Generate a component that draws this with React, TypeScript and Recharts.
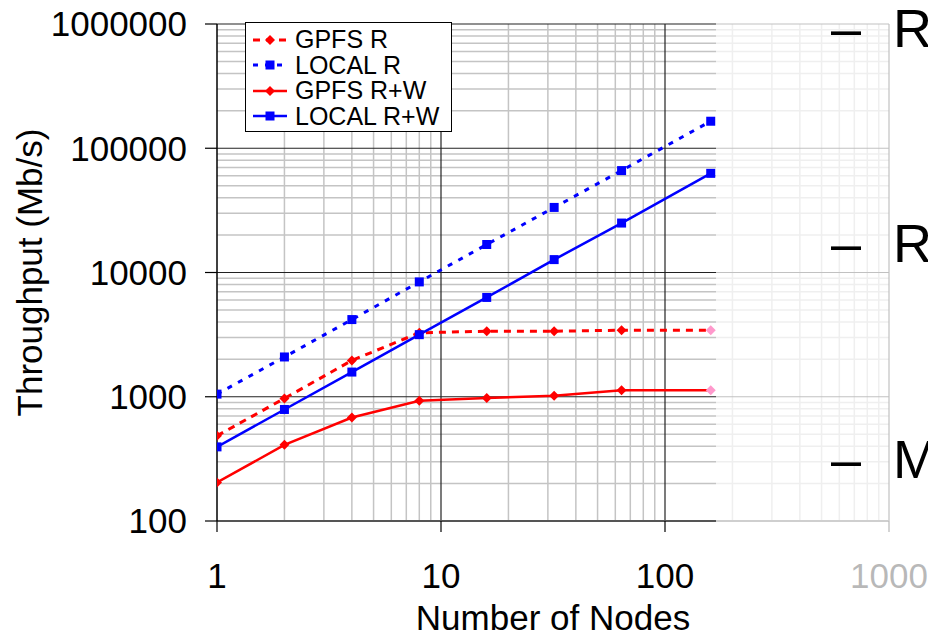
import React from 'react';
import { LineChart, Line, XAxis, YAxis, ReferenceLine, Label } from 'recharts';

const nodes = [1, 2, 4, 8, 16, 32, 64, 160];
const gpfsR = [485, 970, 1960, 3270, 3370, 3370, 3430, 3430];
const localR = [1050, 2090, 4180, 8400, 16800, 33400, 66100, 165000];
const gpfsRW = [204, 410, 681, 929, 976, 1020, 1130, 1130];
const localRW = [395, 790, 1580, 3160, 6300, 12700, 25000, 62800];

const xTicks = [1, 10, 100, 1000];
const yTicks = [100, 1000, 10000, 100000, 1000000];
const xMajor = [10, 100, 1000];
const yMajor = [1000, 10000, 100000, 1000000];
const xMinor = [2, 3, 4, 5, 6, 7, 8, 9, 20, 30, 40, 50, 60, 70, 80, 90, 200, 300, 400, 500, 600, 700, 800, 900];
const yMinor = [
  200, 300, 400, 500, 600, 700, 800, 900,
  2000, 3000, 4000, 5000, 6000, 7000, 8000, 9000,
  20000, 30000, 40000, 50000, 60000, 70000, 80000, 90000,
  200000, 300000, 400000, 500000, 600000, 700000, 800000, 900000,
];

const bullets = ['R', 'R', 'M'];

const FONT = '"Liberation Sans", Arial, sans-serif';

const SERIES = [
  { key: 'gpfsR', name: 'GPFS R', color: '#ff0000', dash: '7 6', width: 3, shape: 'diamond', fadeLast: true },
  { key: 'localR', name: 'LOCAL R', color: '#0000ff', dash: '5 7', width: 3, shape: 'square', fadeLast: false },
  { key: 'gpfsRW', name: 'GPFS R+W', color: '#ff0000', dash: undefined, width: 2.5, shape: 'diamond', fadeLast: true },
  { key: 'localRW', name: 'LOCAL R+W', color: '#0000ff', dash: undefined, width: 2.5, shape: 'square', fadeLast: false },
];

const data = nodes.map((n, i) => ({
  nodes: n,
  gpfsR: gpfsR[i],
  localR: localR[i],
  gpfsRW: gpfsRW[i],
  localRW: localRW[i],
}));

function Marker({ cx, cy, shape, fill }: { cx: number; cy: number; shape: string; fill: string }) {
  if (shape === 'diamond') {
    const r = 5;
    return <polygon points={`${cx},${cy - r} ${cx + r},${cy} ${cx},${cy + r} ${cx - r},${cy}`} fill={fill} />;
  }
  return <rect x={cx - 4.5} y={cy - 4.5} width={9} height={9} fill={fill} />;
}

// custom dot: the last GPFS points show up washed out (pink) in the original
const makeDot = (s: typeof SERIES[number]) => (props: any) => {
  const { cx, cy, index } = props;
  if (cx == null || cy == null) return <g key={index} />;
  const fill = s.fadeLast && index === nodes.length - 1 ? '#ff99cc' : s.color;
  return (
    <g key={index}>
      <Marker cx={cx} cy={cy} shape={s.shape} fill={fill} />
    </g>
  );
};

function LegendBox() {
  return (
    <div
      style={{
        position: 'absolute',
        left: 245,
        top: 22,
        width: 207,
        height: 110,
        background: '#fff',
        border: '1px solid #000',
        padding: '4px 6px 3px 6px',
        fontFamily: FONT,
        fontSize: 25,
        color: '#000',
        boxSizing: 'border-box',
      }}
    >
      {SERIES.map((s) => (
        <div key={s.key} style={{ display: 'flex', alignItems: 'center', height: 25.5, lineHeight: '25.5px' }}>
          <svg width={36} height={20} style={{ marginRight: 7, flexShrink: 0 }}>
            <line x1={1} x2={35} y1={10} y2={10} stroke={s.color} strokeWidth={s.width} strokeDasharray={s.dash} />
            <Marker cx={18} cy={10} shape={s.shape} fill={s.color} />
          </svg>
          <span style={{ whiteSpace: 'nowrap' }}>{s.name}</span>
        </div>
      ))}
    </div>
  );
}

const renderYTitle = (props: any) => {
  const vb = props.viewBox || { x: 0, y: 24, width: 217, height: 497 };
  const x = vb.x + 42;
  const y = vb.y + vb.height / 2;
  return (
    <text
      x={x}
      y={y}
      transform={`rotate(-90, ${x}, ${y})`}
      textAnchor="middle"
      fontSize={35}
      fontFamily={FONT}
      fill="#000"
    >
      Throughput (Mb/s)
    </text>
  );
};

export default function App() {
  return (
    <div style={{ position: 'absolute', left: 0, top: 0, width: 928, height: 634, background: '#fff', fontFamily: FONT, overflow: 'hidden' }}>
      <LineChart width={928} height={634} data={data} margin={{ top: 24, right: 39, bottom: 0, left: 0 }}>
        {xMinor.map((v) => (
          <ReferenceLine key={`xm${v}`} x={v} stroke="#c4c4c4" strokeWidth={1.5} zIndex={-50} />
        ))}
        {yMinor.map((v) => (
          <ReferenceLine key={`ym${v}`} y={v} stroke="#c4c4c4" strokeWidth={1.5} zIndex={-50} />
        ))}
        {xMajor.map((v) => (
          <ReferenceLine key={`xM${v}`} x={v} stroke="#222" strokeWidth={1.2} zIndex={-40} />
        ))}
        {yMajor.map((v) => (
          <ReferenceLine key={`yM${v}`} y={v} stroke="#222" strokeWidth={1.2} zIndex={-40} />
        ))}
        <XAxis
          dataKey="nodes"
          type="number"
          scale="log"
          domain={[1, 1000]}
          ticks={xTicks}
          allowDataOverflow
          height={113}
          tick={{ fill: '#000', fontSize: 35, fontFamily: FONT }}
          tickSize={11}
          tickMargin={31}
          tickLine={{ stroke: '#000', strokeWidth: 1.2 }}
          axisLine={{ stroke: '#555', strokeWidth: 2 }}
        >
          <Label value="Number of Nodes" position="insideBottom" offset={4} fontSize={35} fill="#000" fontFamily={FONT} />
        </XAxis>
        <YAxis
          type="number"
          scale="log"
          domain={[100, 1000000]}
          ticks={yTicks}
          allowDataOverflow
          width={217}
          tick={{ fill: '#000', fontSize: 35, fontFamily: FONT }}
          tickSize={12}
          tickMargin={18}
          tickLine={{ stroke: '#000', strokeWidth: 1.2 }}
          axisLine={{ stroke: '#000', strokeWidth: 1.5 }}
        >
          <Label content={renderYTitle} />
        </YAxis>
        {SERIES.map((s) => (
          <Line
            key={s.key}
            dataKey={s.key}
            name={s.name}
            type="linear"
            stroke={s.color}
            strokeWidth={s.width}
            strokeDasharray={s.dash}
            dot={makeDot(s)}
            activeDot={false}
            isAnimationActive={false}
          />
        ))}
      </LineChart>
      <LegendBox />
      {/* faded right part of the slide, with the bullet text on top */}
      <svg width={928} height={634} style={{ position: 'absolute', left: 0, top: 0, pointerEvents: 'none' }}>
        <rect x={716} y={0} width={212} height={600} fill="#fff" fillOpacity={0.72} />
        {bullets.map((b, i) => {
          const baseline = [47, 262, 478][i];
          return (
            <g key={i} fontFamily={FONT} fontSize={54} fill="#000">
              <text x={831} y={baseline}>–</text>
              <text x={893} y={baseline}>{b}</text>
            </g>
          );
        })}
      </svg>
    </div>
  );
}
